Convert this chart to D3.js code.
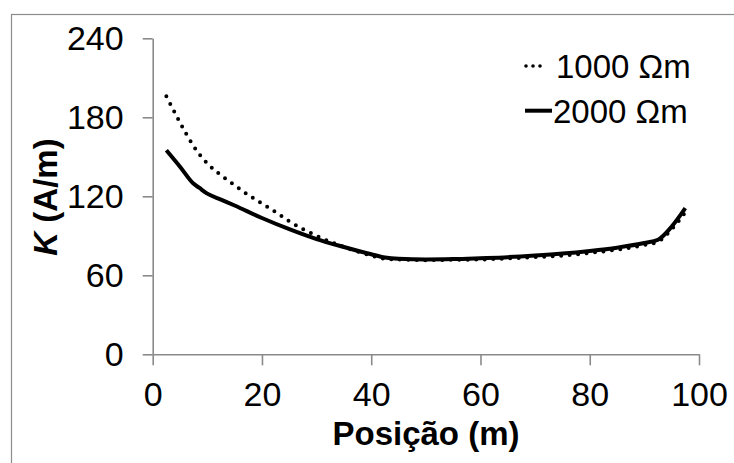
<!DOCTYPE html>
<html><head><meta charset="utf-8">
<script src="https://cdn.jsdelivr.net/npm/d3@7"></script>
<style>
body{margin:0;background:#fff;}
svg{display:block;}
text{font-family:"Liberation Sans",Arial,sans-serif;fill:#000;}
</style></head>
<body>
<svg id="c" width="734" height="463"></svg>
<script>
const xTicks = [0, 20, 40, 60, 80, 100];
const yTicks = [0, 60, 120, 180, 240];
const seriesNames = ["1000 Ωm", "2000 Ωm"];
const pos1000 = [2.5, 5, 7.5, 10, 12.5, 15, 17.5, 20, 22.5, 25, 30, 35, 40, 42.5, 45, 50, 55, 60, 65, 70, 75, 80, 85, 90, 92.5, 95, 97.5];
const k1000   = [196, 176, 158, 145, 136, 128.5, 121, 114.5, 108, 101, 90, 81.5, 75, 72.5, 72, 71.5, 71.8, 72, 72.8, 73.8, 75, 77, 79.5, 83, 85.5, 95, 108];
const pos2000 = [2.5, 5, 7.5, 8.5, 10, 12.5, 15, 20, 25, 30, 35, 40, 42.5, 45, 50, 55, 60, 65, 70, 75, 80, 85, 90, 92.5, 95, 97.5];
const k2000   = [155, 142.5, 129.5, 126.5, 122, 117.5, 113, 103.5, 95, 87.5, 81.5, 76, 73.5, 72.5, 72, 72.3, 73, 73.8, 75, 76.5, 78.5, 81, 84.5, 87, 97, 111];

const svg = d3.select("#c");
// outer frame
svg.append("rect").attr("x", 11.5).attr("y", 14.5).attr("width", 800).attr("height", 500)
  .attr("fill", "none").attr("stroke", "#8c8c8c").attr("stroke-width", 1.2);

const x = d3.scaleLinear().domain([0, 100]).range([152.7, 699]);
const y = d3.scaleLinear().domain([0, 240]).range([354.3, 38.3]);

const axColor = "#8a8a8a";
const gx = svg.append("g").attr("transform", `translate(0,${y(0)})`)
  .call(d3.axisBottom(x).tickValues(xTicks).tickSize(11).tickSizeOuter(0).tickPadding(17));
const gy = svg.append("g").attr("transform", `translate(${x(0)},0)`)
  .call(d3.axisLeft(y).tickValues(yTicks).tickSize(10).tickSizeOuter(0).tickPadding(19));
[gx, gy].forEach(g => {
  g.select(".domain").attr("stroke", axColor).attr("stroke-width", 1.6);
  g.selectAll(".tick line").attr("stroke", axColor).attr("stroke-width", 1.6);
  g.selectAll(".tick text").attr("font-size", 34).attr("fill", "#000")
    .attr("font-family", "'Liberation Sans', Arial, sans-serif");
});

const line = d3.line().x(d => x(d[0])).y(d => y(d[1])).curve(d3.curveMonotoneX);
const d1000 = pos1000.map((p, i) => [p, k1000[i]]);
const d2000 = pos2000.map((p, i) => [p, k2000[i]]);

svg.append("path").datum(d2000).attr("d", line).attr("fill", "none")
  .attr("stroke", "#000").attr("stroke-width", 4).attr("stroke-linejoin", "round");
svg.append("path").datum(d1000).attr("d", line).attr("fill", "none")
  .attr("stroke", "#000").attr("stroke-width", 4).attr("stroke-linecap", "round")
  .attr("stroke-dasharray", "0 8.5");

// axis titles
svg.append("text").attr("x", 426).attr("y", 445).attr("text-anchor", "middle")
  .attr("font-size", 33).attr("font-weight", "bold").text("Posição (m)");
const yt = svg.append("text").attr("transform", "translate(57,197) rotate(-90)")
  .attr("text-anchor", "middle").attr("font-size", 33).attr("font-weight", "bold");
yt.append("tspan").attr("font-style", "italic").text("K");
yt.append("tspan").text(" (A/m)");

// legend
const leg = svg.append("g");
leg.append("line").attr("x1", 526).attr("x2", 545).attr("y1", 66).attr("y2", 66)
  .attr("stroke", "#000").attr("stroke-width", 3.6).attr("stroke-linecap", "round")
  .attr("stroke-dasharray", "0 7");
leg.append("text").attr("x", 556).attr("y", 78).attr("font-size", 33).text(seriesNames[0]);
leg.append("line").attr("x1", 525).attr("x2", 552).attr("y1", 110.7).attr("y2", 110.7)
  .attr("stroke", "#000").attr("stroke-width", 4);
leg.append("text").attr("x", 553).attr("y", 122.5).attr("font-size", 33).text(seriesNames[1]);
</script>
</body></html>
